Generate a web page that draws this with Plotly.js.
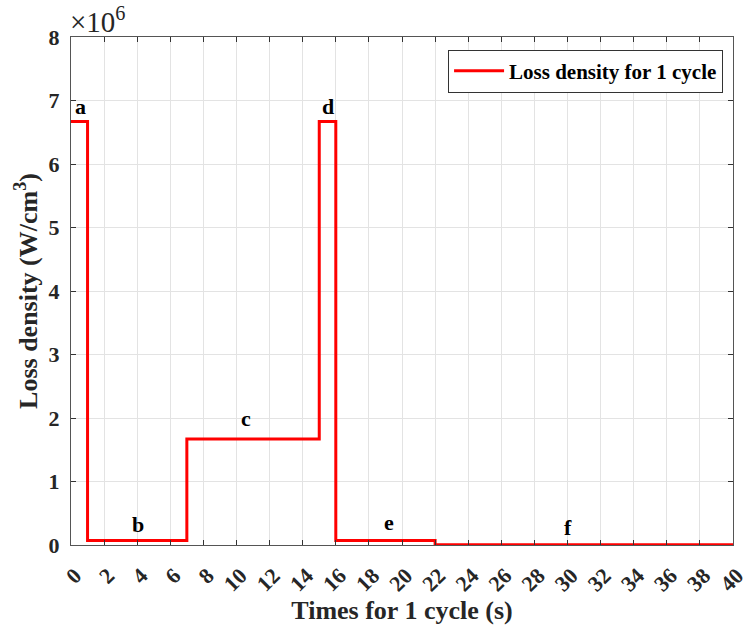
<!DOCTYPE html>
<html>
<head>
<meta charset="utf-8">
<script src="https://cdn.plot.ly/plotly-3.0.1.min.js"></script>
<style>body{margin:0;padding:0;background:#fff;} #chart{width:748px;height:625px;}</style>
</head>
<body>
<div id="chart"></div>
<script>
// Step boundaries (s) and loss density levels (W/cm^3)
var stepTimes = [0, 1, 7, 15, 16, 22, 40];
var lossDensity = [6.67e6, 0.07e6, 1.67e6, 6.67e6, 0.07e6, 0.005e6, 0.005e6];
var seriesName = 'Loss density for 1 cycle';

// Phase labels
var phaseLabels = ['a', 'b', 'c', 'd', 'e', 'f'];
var phaseLabelX = [0.55, 4.05, 10.6, 15.5, 19.2, 30.0];
var phaseLabelY = [6.9e6, 0.33e6, 2.0e6, 6.9e6, 0.35e6, 0.28e6];

var xTicks = [0,2,4,6,8,10,12,14,16,18,20,22,24,26,28,30,32,34,36,38,40];
var yTickVals = [0,1e6,2e6,3e6,4e6,5e6,6e6,7e6,8e6];
var yTickText = ['0','1','2','3','4','5','6','7','8'];

var fontFam = '"Liberation Serif", "Times New Roman", serif';

var trace = {
  x: stepTimes,
  y: lossDensity,
  mode: 'lines',
  line: {shape: 'hv', color: '#ff0000', width: 3},
  name: seriesName,
  showlegend: true
};

var annotations = phaseLabels.map(function(t, i){
  return {x: phaseLabelX[i], y: phaseLabelY[i], xref: 'x', yref: 'y', text: '<b>' + t + '</b>',
    showarrow: false, font: {family: fontFam, size: 22, color: '#000'}};
});
annotations.push({x: 0, y: 1, xref: 'paper', yref: 'paper', xanchor: 'left', yanchor: 'bottom',
  text: '×10<sup>6</sup>', showarrow: false, yshift: -3, xshift: -3,
  font: {family: fontFam, size: 29, color: '#262626'}});

var axisCommon = {
  showline: true, linecolor: '#555', linewidth: 1, mirror: 'ticks',
  ticks: 'inside', ticklen: 5, tickcolor: '#333', tickwidth: 1,
  showgrid: true, gridcolor: '#e3e3e3', gridwidth: 1, zeroline: false,
  tickfont: {family: fontFam, size: 22, color: '#262626', weight: 'bold'}
};

var layout = {
  width: 748, height: 625,
  margin: {l: 71, r: 15, t: 37, b: 80},
  paper_bgcolor: '#fff', plot_bgcolor: '#fff',
  xaxis: Object.assign({}, axisCommon, {
    range: [0, 40], tickvals: xTicks, tickangle: -45,
    ticklabelstandoff: 8, ticklabelshift: 4, ticklabeloverflow: 'allow',
    title: {text: '<b>Times for 1 cycle (s)</b>', font: {family: fontFam, size: 26, color: '#262626'}, standoff: 0}
  }),
  yaxis: Object.assign({}, axisCommon, {
    range: [0, 8e6], tickvals: yTickVals, ticktext: yTickText,
    ticklabelstandoff: 6,
    title: {text: '<b>Loss density (W/cm<sup>3</sup>)</b>', font: {family: fontFam, size: 26, color: '#262626'}, standoff: 3}
  }),
  legend: {
    x: 0.985, y: 0.975, xanchor: 'right', yanchor: 'top',
    bgcolor: '#fff', bordercolor: '#333', borderwidth: 1, itemwidth: 50,
    font: {family: fontFam, size: 21, color: '#000', weight: 'bold'}
  },
  annotations: annotations
};

Plotly.newPlot('chart', [trace], layout, {displayModeBar: false, staticPlot: true});
</script>
</body>
</html>
